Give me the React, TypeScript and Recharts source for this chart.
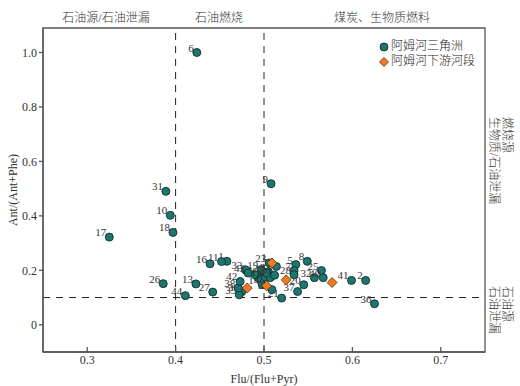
import { Legend, ReferenceArea, ReferenceLine, Scatter, ScatterChart, XAxis, YAxis } from "recharts";

const SERIF = '"Liberation Serif", "Noto Sans CJK SC", serif';

// 阿姆河三角洲 samples
const deltaIds = [
  "1", "2", "3", "4", "5", "6", "7", "8", "9", "10", "11", "12", "13", "14", "15",
  "16", "17", "18", "19", "20", "21", "22", "23", "24", "25", "26", "27", "28", "29", "30",
  "31", "32", "33", "34", "35", "36", "37", "38", "39", "40", "41", "42", "43", "44",
];
const deltaFlu = [
  0.458, 0.615, 0.505, 0.493, 0.536, 0.424, 0.534, 0.549, 0.508, 0.394, 0.452, 0.49, 0.423, 0.498, 0.501,
  0.439, 0.325, 0.397, 0.497, 0.545, 0.52, 0.514, 0.506, 0.507, 0.565, 0.386, 0.442, 0.534, 0.503, 0.512,
  0.389, 0.557, 0.479, 0.475, 0.472, 0.625, 0.538, 0.471, 0.509, 0.567, 0.599, 0.473, 0.482, 0.411,
];
const deltaAnt = [
  0.233, 0.163, 0.195, 0.173, 0.221, 1.0, 0.199, 0.233, 0.518, 0.402, 0.232, 0.184, 0.15, 0.147, 0.176,
  0.224, 0.322, 0.339, 0.202, 0.147, 0.098, 0.214, 0.227, 0.173, 0.199, 0.151, 0.12, 0.184, 0.19, 0.182,
  0.49, 0.173, 0.202, 0.122, 0.11, 0.077, 0.122, 0.135, 0.129, 0.173, 0.163, 0.159, 0.19, 0.107,
];

// 阿姆河下游河段 samples
const riverIds = ["1", "2", "3", "4", "5"];
const riverFlu = [0.509, 0.525, 0.481, 0.503, 0.577];
const riverAnt = [0.227, 0.165, 0.135, 0.143, 0.155];

const xTicks = [0.3, 0.4, 0.5, 0.6, 0.7];
const yTicks = [0, 0.2, 0.4, 0.6, 0.8, 1.0];
const fluLimits = [0.4, 0.5];
const antLimit = 0.1;

const deltaData = deltaIds.map((id, i) => ({ id, flu: deltaFlu[i], ant: deltaAnt[i] }));
const riverData = riverIds.map((id, i) => ({ id, flu: riverFlu[i], ant: riverAnt[i] }));

function DeltaDot(props: any) {
  const { cx, cy, payload } = props;
  return (
    <g>
      <text x={cx - 3} y={cy - 1} textAnchor="end" fontSize={11} fill="#333" fontFamily={SERIF}>
        {payload.id}
      </text>
      <circle cx={cx} cy={cy} r={4} fill="#1f7570" stroke="#0b302e" strokeWidth={0.9} />
    </g>
  );
}

function RiverDot(props: any) {
  const { cx, cy } = props;
  const s = 5;
  return (
    <polygon
      points={`${cx},${cy - s} ${cx + s},${cy} ${cx},${cy + s} ${cx - s},${cy}`}
      fill="#f07a22"
      stroke="#5a2a08"
      strokeWidth={0.8}
    />
  );
}

function LegendBox() {
  return (
    <div style={{ fontFamily: SERIF, fontSize: 12, fontWeight: 300, color: "#222", lineHeight: "15px" }}>
      <div style={{ display: "flex", alignItems: "center" }}>
        <svg width={10} height={10} style={{ marginRight: 2 }}>
          <circle cx={5} cy={5} r={4} fill="#1f7570" stroke="#0b302e" strokeWidth={0.9} />
        </svg>
        阿姆河三角洲
      </div>
      <div style={{ display: "flex", alignItems: "center" }}>
        <svg width={10} height={10} style={{ marginRight: 2 }}>
          <polygon points="5,0.5 9.5,5 5,9.5 0.5,5" fill="#f07a22" stroke="#5a2a08" strokeWidth={0.8} />
        </svg>
        阿姆河下游河段
      </div>
    </div>
  );
}

const sideText: React.CSSProperties = {
  position: "absolute",
  writingMode: "vertical-rl",
  textOrientation: "sideways",
  fontFamily: SERIF,
  fontSize: 12,
  fontWeight: 300,
  color: "#333",
  lineHeight: "13px",
  whiteSpace: "pre",
};

export default function App() {
  return (
    <div style={{ position: "fixed", left: 0, top: 0, width: 520, height: 386, background: "#fff" }}>
      <ScatterChart width={520} height={386} margin={{ top: 28, right: 35, bottom: 0, left: 0 }}>
        <XAxis
          type="number"
          dataKey="flu"
          domain={[0.25, 0.75]}
          ticks={xTicks}
          allowDataOverflow
          height={34}
          tickSize={-5}
          tickMargin={8}
          tickFormatter={(v: number) => v.toFixed(1)}
          stroke="#555"
          strokeWidth={1.3}
          tick={{ fill: "#333", fontSize: 12, fontFamily: SERIF }}
          label={{ value: "Flu/(Flu+Pyr)", position: "insideBottom", offset: 3, fill: "#333", fontSize: 12, fontFamily: SERIF }}
        />
        <YAxis
          type="number"
          dataKey="ant"
          domain={[-0.1, 1.09]}
          ticks={yTicks}
          allowDataOverflow
          width={43}
          tickSize={4}
          tickMargin={2}
          tickFormatter={(v: number) => (v === 0 ? "0" : v.toFixed(1))}
          stroke="#555"
          strokeWidth={1.3}
          tick={{ fill: "#333", fontSize: 12, fontFamily: SERIF }}
          label={{
            content: (p: any) => {
              const vb = p.viewBox;
              const x = vb.x + 14;
              const y = vb.y + vb.height / 2;
              return (
                <text x={x} y={y} transform={`rotate(-90 ${x} ${y})`} textAnchor="middle" dominantBaseline="middle" fill="#333" fontSize={12} fontFamily={SERIF}>
                  Ant/(Ant+Phe)
                </text>
              );
            },
          }}
        />
        <ReferenceArea x1={0.25} x2={0.75} y1={-0.1} y2={1.09} fill="none" stroke="#555" strokeWidth={1.3} />
        {fluLimits.map((v) => (
          <ReferenceLine key={v} x={v} stroke="#222" strokeDasharray="7 6" />
        ))}
        <ReferenceLine y={antLimit} stroke="#222" strokeDasharray="7 6" />
        <Scatter name="阿姆河三角洲" data={deltaData} shape={DeltaDot} isAnimationActive={false} />
        <Scatter name="阿姆河下游河段" data={riverData} shape={RiverDot} isAnimationActive={false} />
        <Legend
          layout="vertical"
          align="center"
          verticalAlign="middle"
          content={LegendBox}
          wrapperStyle={{ top: 39, left: 379, width: 100 }}
        />
      </ScatterChart>

      <div style={{ position: "absolute", top: 8, left: 0, width: 520, height: 16, fontFamily: SERIF, fontSize: 12, fontWeight: 300, color: "#333" }}>
        <span style={{ position: "absolute", left: 106, transform: "translateX(-50%)", whiteSpace: "nowrap" }}>石油源/石油泄漏</span>
        <span style={{ position: "absolute", left: 219, transform: "translateX(-50%)", whiteSpace: "nowrap" }}>石油燃烧</span>
        <span style={{ position: "absolute", left: 382, transform: "translateX(-50%)", whiteSpace: "nowrap" }}>煤炭、生物质燃料</span>
      </div>
      <div style={{ ...sideText, left: 487, top: 117 }}>{"燃烧源\n生物质/石油泄漏"}</div>
      <div style={{ ...sideText, left: 487, top: 286 }}>{"石油源\n石油泄漏"}</div>
    </div>
  );
}
